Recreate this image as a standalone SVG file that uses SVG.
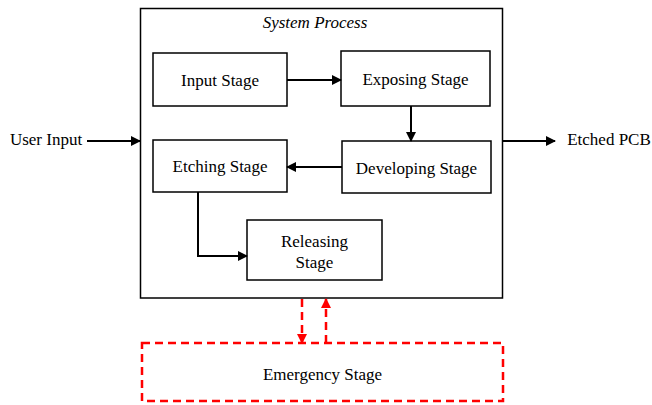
<svg xmlns="http://www.w3.org/2000/svg" width="652" height="405" viewBox="0 0 652 405">
<style>
.box{fill:#fff;stroke:#000;stroke-width:1.5}
.t{font-family:"Liberation Serif","Times New Roman",serif;font-size:17px;fill:#000;text-anchor:middle}
.c{fill:none;stroke:#000;stroke-width:2}
.r{fill:none;stroke:#f00;stroke-width:2.5;stroke-dasharray:8,5}
</style>
<defs>
<marker id="ah" markerWidth="10" markerHeight="10" refX="9" refY="5" orient="auto" markerUnits="userSpaceOnUse">
<path d="M0,0 L10,5 L0,10 Z" fill="#000"/>
</marker>
<marker id="ar" markerWidth="10" markerHeight="10" refX="9" refY="5" orient="auto" markerUnits="userSpaceOnUse">
<path d="M0,0 L10,5 L0,10 Z" fill="#f00"/>
</marker>
</defs>
<g id="system">
<rect class="box" x="140.5" y="8.5" width="362" height="289.5"/>
<text class="t" x="315" y="28" font-style="italic">System Process</text>
</g>
<g id="input">
<rect class="box" x="153" y="53" width="134" height="53"/>
<text class="t" x="220" y="86">Input Stage</text>
</g>
<g id="exposing">
<rect class="box" x="341" y="51" width="149" height="55"/>
<text class="t" x="415.5" y="85">Exposing Stage</text>
</g>
<g id="developing">
<rect class="box" x="342" y="141" width="149" height="52"/>
<text class="t" x="416.5" y="174">Developing Stage</text>
</g>
<g id="etching">
<rect class="box" x="153" y="140" width="134" height="52"/>
<text class="t" x="220" y="172">Etching Stage</text>
</g>
<g id="releasing">
<rect class="box" x="247" y="220" width="135" height="60"/>
<text class="t" x="314.5" y="247">Releasing</text>
<text class="t" x="314.5" y="268">Stage</text>
</g>
<g id="emergency">
<rect class="r" x="142" y="343" width="361" height="58"/>
<text class="t" x="322.5" y="380">Emergency Stage</text>
</g>
<g id="userinput">
<text class="t" x="46" y="145">User Input</text>
</g>
<g id="etchedpcb">
<text class="t" x="609" y="145">Etched PCB</text>
</g>
<g id="connectors">
<line class="c" x1="87" y1="141" x2="140" y2="141" marker-end="url(#ah)"/>
<line class="c" x1="503" y1="141" x2="555" y2="141" marker-end="url(#ah)"/>
<line class="c" x1="287" y1="80" x2="341" y2="80" marker-end="url(#ah)"/>
<line class="c" x1="411" y1="106" x2="411" y2="141" marker-end="url(#ah)"/>
<line class="c" x1="342" y1="167" x2="287" y2="167" marker-end="url(#ah)"/>
<polyline class="c" points="198,192 198,256 247,256" marker-end="url(#ah)"/>
<line class="r" x1="302" y1="299" x2="302" y2="343" marker-end="url(#ar)"/>
<line class="r" x1="326" y1="343" x2="326" y2="299" marker-end="url(#ar)"/>
</g>
</svg>
